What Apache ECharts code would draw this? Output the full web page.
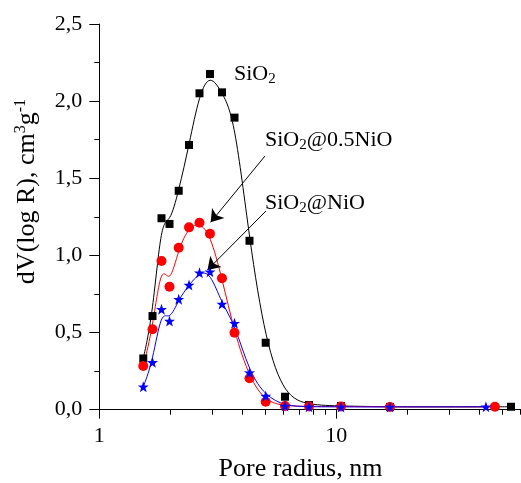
<!DOCTYPE html>
<html>
<head>
<meta charset="utf-8">
<script src="https://cdn.jsdelivr.net/npm/echarts@6/dist/echarts.min.js"></script>
<style>
html,body{margin:0;padding:0;background:#fff;}
#chart{width:521px;height:483px;}
</style>
</head>
<body>
<div id="chart"></div>
<script>
// Pore radius (nm) shared by the first 16 points of every series
var poreRadius = [1.533, 1.677, 1.830, 1.978, 2.163, 2.391, 2.647, 2.931, 3.294, 3.720, 4.303, 5.036, 6.074, 7.671, 10.47, 16.85];
// last radius of each series
var lastRadiusSiO2 = 54.6;
var lastRadius05NiO = 46.7;
var lastRadiusNiO = 42.8;

// dV(log R), cm3/g
var valuesSiO2 = [0.332, 0.607, 1.241, 1.204, 1.419, 1.716, 2.051, 2.176, 2.057, 1.893, 1.095, 0.434, 0.084, 0.030, 0.024, 0.018, 0.019];
var values05NiO = [0.283, 0.521, 0.964, 0.797, 1.050, 1.182, 1.212, 1.141, 0.852, 0.499, 0.204, 0.052, 0.024, 0.021, 0.021, 0.018, 0.019];
var valuesNiO = [0.149, 0.307, 0.651, 0.575, 0.716, 0.808, 0.888, 0.894, 0.685, 0.560, 0.240, 0.089, 0.024, 0.019, 0.018, 0.018, 0.019];

var xMajorTicks = [1, 10];
var xMinorTicks = [2, 3, 4, 5, 6, 7, 8, 9, 20, 30, 40, 50, 60];
var yTicks = [0, 0.5, 1.0, 1.5, 2.0, 2.5];

// annotation arrows (tail -> head, data coordinates)
var arrow05NiO = [[5.00, 1.644], [2.951, 1.215]];
var arrowNiO = [[5.05, 1.288], [2.861, 0.906]];

var FONT = 'Liberation Serif';
var STAR = 'path://M50,0 L61.8,35.1 L97.6,34.5 L69,56 L79.4,90.5 L50,70 L20.6,90.5 L31,56 L2.4,34.5 L38.2,35.1 Z';

function pairs(xs, ys) { return xs.map(function (x, i) { return [x, ys[i]]; }); }
var dataSiO2 = pairs(poreRadius.concat([lastRadiusSiO2]), valuesSiO2);
var data05NiO = pairs(poreRadius.concat([lastRadius05NiO]), values05NiO);
var dataNiO = pairs(poreRadius.concat([lastRadiusNiO]), valuesNiO);

// B-spline curve drawn through the library's coordinate system
function splineSeries(name, data, color) {
  return {
    type: 'custom', name: name, coordinateSystem: 'cartesian2d',
    xAxisIndex: 0, yAxisIndex: 0, silent: true, z: 1,
    data: data,
    renderItem: function (params, api) {
      if (params.dataIndex !== 0) return null;
      var pts = data.map(function (d) { return api.coord(d); });
      var n = pts.length;
      var P = [pts[0], pts[0]].concat(pts).concat([pts[n - 1], pts[n - 1]]);
      var d = '';
      for (var i = 1; i <= P.length - 3; i++) {
        var p0 = P[i - 1], p1 = P[i], p2 = P[i + 1], p3 = P[i + 2];
        var b0 = [(p0[0] + 4 * p1[0] + p2[0]) / 6, (p0[1] + 4 * p1[1] + p2[1]) / 6];
        var b1 = [(2 * p1[0] + p2[0]) / 3, (2 * p1[1] + p2[1]) / 3];
        var b2 = [(p1[0] + 2 * p2[0]) / 3, (p1[1] + 2 * p2[1]) / 3];
        var b3 = [(p1[0] + 4 * p2[0] + p3[0]) / 6, (p1[1] + 4 * p2[1] + p3[1]) / 6];
        if (i === 1) d += 'M' + b0[0] + ' ' + b0[1];
        d += ' C' + b1[0] + ' ' + b1[1] + ' ' + b2[0] + ' ' + b2[1] + ' ' + b3[0] + ' ' + b3[1];
      }
      return { type: 'path', shape: { pathData: d }, style: { fill: null, stroke: color, lineWidth: 1 } };
    }
  };
}

var chart = echarts.init(document.getElementById('chart'), null, { renderer: 'canvas' });

var richSub = {
  a: { fontFamily: FONT, fontSize: 22, color: '#000', lineHeight: 26 },
  b: { fontFamily: FONT, fontSize: 15, color: '#000', lineHeight: 15, verticalAlign: 'bottom' }
};

var option = {
  animation: false,
  backgroundColor: '#fff',
  grid: { left: 99.3, right: 0.3, top: 24, bottom: 73.3, containLabel: false },
  xAxis: [{
    type: 'log', logBase: 10, min: 1, max: 60,
    axisLine: { show: true, lineStyle: { color: '#000', width: 1 } },
    axisTick: { show: true, length: 9, inside: false, customValues: xMajorTicks, lineStyle: { color: '#000' } },
    axisLabel: { show: true, customValues: xMajorTicks, margin: 16, color: '#000', fontFamily: FONT, fontSize: 22 },
    splitLine: { show: false }
  }, {
    type: 'log', logBase: 10, min: 1, max: 60, position: 'bottom', gridIndex: 0,
    axisLine: { show: false },
    axisTick: { show: true, length: 5, inside: false, customValues: xMinorTicks, lineStyle: { color: '#000' } },
    axisLabel: { show: false },
    splitLine: { show: false }
  }],
  yAxis: {
    type: 'value', min: 0, max: 2.5, interval: 0.5,
    axisLine: { show: true, lineStyle: { color: '#000', width: 1 } },
    axisTick: { show: true, length: 10, inside: false, lineStyle: { color: '#000' } },
    minorTick: { show: true, splitNumber: 2, length: 5, lineStyle: { color: '#000' } },
    axisLabel: { margin: 17, color: '#000', fontFamily: FONT, fontSize: 22,
      formatter: function (v) { return v.toFixed(1).replace('.', ','); } },
    splitLine: { show: false }
  },
  series: [
    splineSeries('SiO2 curve', dataSiO2, '#000000'),
    splineSeries('SiO2@0.5NiO curve', data05NiO, '#ff0000'),
    splineSeries('SiO2@NiO curve', dataNiO, '#0000ff'),
    {
      type: 'scatter', name: 'SiO2', data: dataSiO2, symbol: 'rect', symbolSize: 8,
      itemStyle: { color: '#000', opacity: 1 }, z: 3,
      markLine: {
        silent: true, symbol: ['none', 'arrow'], symbolSize: 12,
        label: { show: false },
        lineStyle: { color: '#000', width: 1, type: 'solid', opacity: 1 },
        itemStyle: { color: '#000' },
        data: [
          [{ coord: arrow05NiO[0] }, { coord: arrow05NiO[1] }],
          [{ coord: arrowNiO[0] }, { coord: arrowNiO[1] }]
        ]
      }
    },
    {
      type: 'scatter', name: 'SiO2@0.5NiO', data: data05NiO, symbol: 'circle', symbolSize: 10,
      itemStyle: { color: '#ff0000', opacity: 1 }, z: 4
    },
    {
      type: 'scatter', name: 'SiO2@NiO', data: dataNiO, symbol: STAR, symbolSize: 11,
      itemStyle: { color: '#0000ff', opacity: 1 }, z: 5
    }
  ],
  graphic: [
    { type: 'text', x: 27.5, y: 191.5, rotation: Math.PI / 2,
      style: { text: '{a|dV(log R), cm}{s|3}{a|g}{s|-1}', align: 'center', verticalAlign: 'middle',
        rich: {
          a: { fontFamily: FONT, fontSize: 26, color: '#000', lineHeight: 30 },
          s: { fontFamily: FONT, fontSize: 16, color: '#000', lineHeight: 16, verticalAlign: 'top' }
        } } },
    { type: 'text', x: 300.5, y: 469,
      style: { text: 'Pore radius, nm', fontFamily: FONT, fontSize: 26, fill: '#000', align: 'center', verticalAlign: 'middle' } },
    { type: 'text', x: 234, y: 74,
      style: { text: '{a|SiO}{b|2}', align: 'left', verticalAlign: 'middle', rich: richSub } },
    { type: 'text', x: 265, y: 140,
      style: { text: '{a|SiO}{b|2}{a|@0.5NiO}', align: 'left', verticalAlign: 'middle', rich: richSub } },
    { type: 'text', x: 265, y: 203,
      style: { text: '{a|SiO}{b|2}{a|@NiO}', align: 'left', verticalAlign: 'middle', rich: richSub } }
  ]
};
chart.setOption(option);
</script>
</body>
</html>
